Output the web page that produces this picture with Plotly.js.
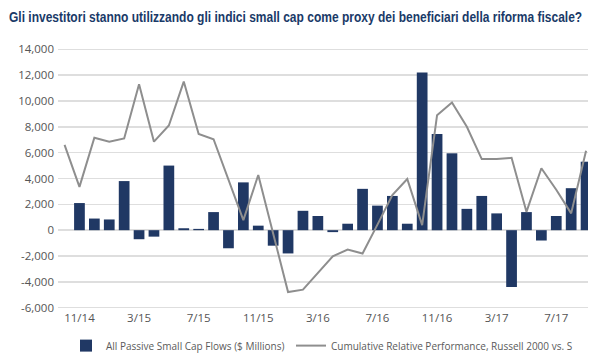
<!DOCTYPE html>
<html>
<head>
<meta charset="utf-8">
<script src="https://cdn.plot.ly/plotly-3.0.1.min.js"></script>
<style>
html,body{margin:0;padding:0;background:#fff;}
#chart{width:600px;height:360px;}
</style>
</head>
<body>
<div id="chart"></div>
<script>
// Month labels (index 0 = 11/14); line starts one month earlier (index -1 = 10/14)
const months = ["11/14","12/14","1/15","2/15","3/15","4/15","5/15","6/15","7/15","8/15","9/15","10/15",
  "11/15","12/15","1/16","2/16","3/16","4/16","5/16","6/16","7/16","8/16","9/16","10/16",
  "11/16","12/16","1/17","2/17","3/17","4/17","5/17","6/17","7/17","8/17","9/17"];
const flowX = months.map((m, i) => i);
const flows = [2100, 900, 830, 3800, -700, -500, 5000, 150, 100, 1400, -1400, 3700,
  350, -1200, -1800, 1500, 1100, -150, 500, 3200, 1900, 2650, 500, 12200,
  7450, 5950, 1650, 2650, 1300, -4400, 1400, -800, 1100, 3250, 5300];

const perfX = [-1].concat(flowX);
const perf = [6600, 3350, 7150, 6850, 7100, 11300, 6850, 8100, 11500, 7450, 7040, 3900,
  780, 4270, -260, -4790, -4600, -3300, -2020, -1500, -1810, 430, 2720, 3960,
  390, 8900, 9880, 8000, 5500, 5500, 5600, 1420, 4790, 3130, 1300, 6150];

const xTickVals = [0, 4, 8, 12, 16, 20, 24, 28, 32];
const xTickText = ["11/14","3/15","7/15","11/15","3/16","7/16","11/16","3/17","7/17"];
const yTickVals = [-6000,-4000,-2000,0,2000,4000,6000,8000,10000,12000,14000];
const yTickText = ["-6,000","-4,000","-2,000","0","2,000","4,000","6,000","8,000","10,000","12,000","14,000"];

const titleText = "Gli investitori stanno utilizzando gli indici small cap come proxy dei beneficiari della riforma fiscale?";
const barName = "All Passive Small Cap Flows ($ Millions)";
const lineName = "Cumulative Relative Performance, Russell 2000 vs. S";

const tickFont = {family: "Open Sans, sans-serif", size: 11.5, color: "#555555"};
const legFont = {family: "Open Sans, sans-serif", size: 10, color: "#5a5a5a"};

const data = [
  {type: "bar", x: flowX, y: flows, name: barName, width: 0.72, legend: "legend",
   marker: {color: "#203864"}, hoverinfo: "skip"},
  {type: "scatter", mode: "lines", x: perfX, y: perf, name: lineName, legend: "legend2",
   line: {color: "#8e8e8e", width: 2}, hoverinfo: "skip"}
];

const layout = {
  width: 600, height: 360,
  margin: {l: 58, r: 12, t: 48, b: 51},
  paper_bgcolor: "#ffffff", plot_bgcolor: "#ffffff",
  title: {text: titleText,
    font: {family: "Liberation Sans, Arial, sans-serif", size: 14, weight: "bold", color: "#1a3a68"},
    x: 0.015, xanchor: "left", xref: "container", y: 0.953, yanchor: "middle", yref: "container"},
  showlegend: true,
  legend: {orientation: "h", x: 66 / 600, xref: "container", xanchor: "left",
    y: 0.04, yref: "container", yanchor: "middle",
    font: legFont, itemwidth: 30, bgcolor: "rgba(0,0,0,0)"},
  legend2: {orientation: "h", x: 291 / 600, xref: "container", xanchor: "left",
    y: 0.04, yref: "container", yanchor: "middle",
    font: legFont, itemwidth: 30, bgcolor: "rgba(0,0,0,0)"},
  xaxis: {range: [-1.44, 34.13], showgrid: false, zeroline: false, showline: false,
    tickvals: xTickVals, ticktext: xTickText, ticks: "", tickfont: tickFont, fixedrange: true},
  yaxis: {range: [-6100, 14100], tickvals: yTickVals, ticktext: yTickText,
    showgrid: true, gridcolor: "#dedede", gridwidth: 1.5, zeroline: false, showline: false,
    ticks: "", tickfont: tickFont, ticklabelstandoff: 3, fixedrange: true},
  bargap: 0.28
};

Plotly.newPlot("chart", data, layout, {displayModeBar: false, staticPlot: true}).then(function (gd) {
  // condense the title horizontally to match the reference's narrow bold face
  const t = gd.querySelector(".gtitle");
  if (t) {
    const x0 = parseFloat(t.getAttribute("x")) || 9;
    const w = t.getComputedTextLength();
    const s = Math.min(1, 574 / w);
    t.setAttribute("transform", "translate(" + x0 + ",0) scale(" + s + ",1) translate(" + (-x0) + ",0)");
  }
});
</script>
</body>
</html>
